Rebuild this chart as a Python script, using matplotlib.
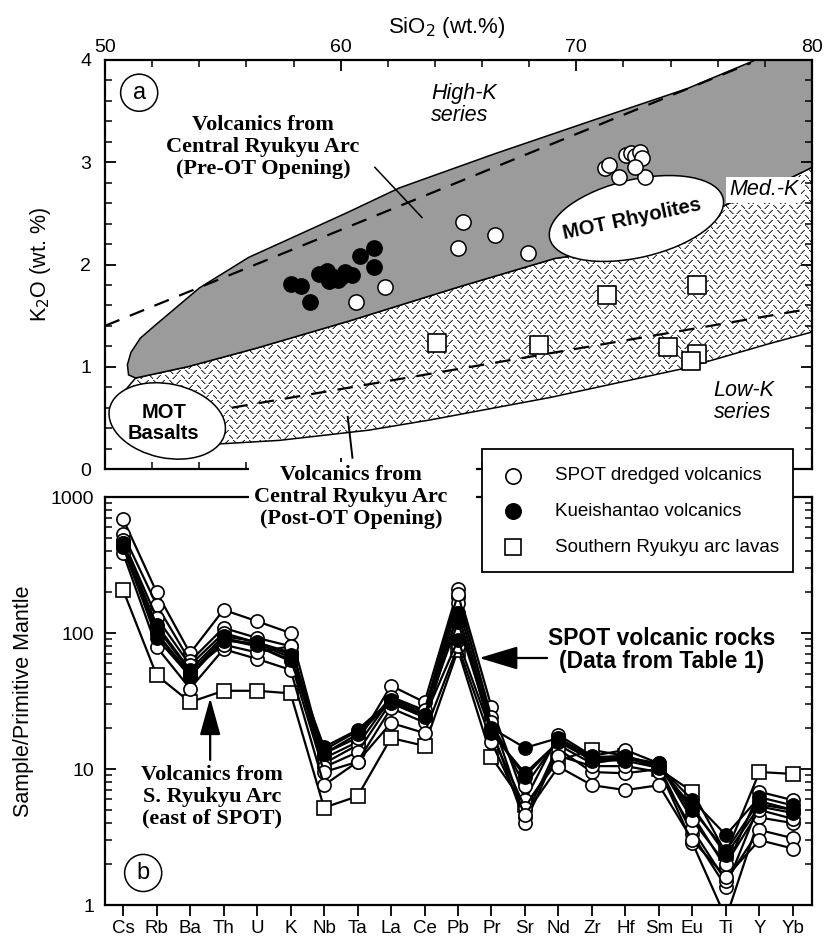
import numpy as np
import matplotlib
matplotlib.use("Agg")
import matplotlib.pyplot as plt
from matplotlib import font_manager
from matplotlib.patches import Polygon, Ellipse, Rectangle
from matplotlib.lines import Line2D
from matplotlib.transforms import ScaledTranslation
from matplotlib.ticker import MultipleLocator, LogLocator, NullFormatter

# ------------------------------------------------------------------
# fuentes
# ------------------------------------------------------------------
_names = {f.name for f in font_manager.fontManager.ttflist}
NARROW = "Liberation Sans Narrow" if "Liberation Sans Narrow" in _names else "Liberation Sans"
SANS = "Liberation Sans"
SERIF = "Liberation Serif"
plt.rcParams["font.family"] = [NARROW, "DejaVu Sans"]

# ------------------------------------------------------------------
# (a) K2O vs SiO2
# ------------------------------------------------------------------
spot_sio2 = [65.2, 66.55, 65.0, 67.96, 61.87, 60.64, 71.2, 71.4, 71.8, 72.1,
             72.3, 72.5, 72.7, 72.8, 72.9, 72.5]
spot_k2o = [2.42, 2.29, 2.16, 2.11, 1.78, 1.63, 2.94, 2.97, 2.86, 3.07,
            3.09, 3.06, 3.10, 3.04, 2.86, 2.95]
kue_sio2 = [57.9, 58.3, 58.7, 59.1, 59.4, 59.7, 59.9, 60.2, 60.5, 60.8,
            61.4, 61.4, 59.5, 60.0]
kue_k2o = [1.81, 1.79, 1.63, 1.91, 1.94, 1.88, 1.85, 1.93, 1.90, 2.08,
           2.16, 1.98, 1.84, 1.88]
sr_sio2 = [64.1, 68.4, 71.3, 75.1, 73.9, 75.1, 74.85]
sr_k2o = [1.23, 1.21, 1.70, 1.80, 1.19, 1.12, 1.06]

# campo pre-OT (gris)
pre_sio2 = [50.95, 51.1, 51.5, 52.1, 54.0, 56.1, 58.3, 60.3, 62.5, 66.5, 70.7,
            74.7, 77.6, 80.0, 80.0, 78.5, 76.5, 74.0, 71.0, 69.1, 65.0, 60.4,
            56.4, 53.5, 51.3, 51.0]
pre_k2o = [1.02, 1.14, 1.28, 1.40, 1.77, 2.07, 2.30, 2.51, 2.75, 3.08, 3.41,
           3.72, 4.00, 4.00, 2.95, 2.78, 2.60, 2.32, 2.12, 2.06, 1.78, 1.45,
           1.18, 1.00, 0.89, 0.92]
# campo post-OT (rayado)
post_sio2 = [51.3, 53.5, 56.4, 60.4, 65.0, 69.1, 71.0, 74.0, 76.5, 78.5, 80.0,
             80.0, 78.1, 74.5, 68.9, 63.8, 61.2, 57.4, 53.0, 51.5, 50.6]
post_k2o = [0.89, 1.00, 1.18, 1.45, 1.78, 2.06, 2.12, 2.32, 2.60, 2.78, 2.95,
            1.34, 1.22, 0.98, 0.70, 0.48, 0.38, 0.28, 0.22, 0.30, 0.70]

# limites de series (rayas)
hk_sio2 = [50.0, 77.4]
hk_k2o = [1.40, 3.97]
lk_sio2 = [55.4, 80.0]
lk_k2o = [0.60, 1.57]

# ------------------------------------------------------------------
# (b) diagrama multi-elemento
# ------------------------------------------------------------------
elements = ["Cs", "Rb", "Ba", "Th", "U", "K", "Nb", "Ta", "La", "Ce", "Pb",
            "Pr", "Sr", "Nd", "Zr", "Hf", "Sm", "Eu", "Ti", "Y", "Yb"]

spot_pm = [
    [689, 200, 71, 148, 122, 100, 12.0, 15.8, 41, 31, 209, 28.6, 5.9, 17.8, 12.5, 13.8, 11.0, 4.6, 1.87, 6.8, 5.9],
    [535, 161, 62, 109, 92, 80, 11.0, 15.0, 33, 26, 185, 24, 4.4, 15.0, 11.0, 12.0, 10.5, 3.3, 1.36, 5.5, 5.0],
    [480, 130, 58, 100, 85, 72, 10.3, 13.3, 31, 24, 165, 20, 4.0, 14.0, 9.5, 9.3, 10.0, 2.86, 0.8, 4.4, 4.0],
    [420, 100, 48, 90, 80, 62, 9.5, 11.3, 28, 22, 140, 18, 5.2, 12.5, 10.5, 10.5, 9.5, 3.6, 1.5, 3.56, 3.1],
    [387, 79, 39, 76, 64.5, 53.6, 7.6, 11.3, 21.8, 18.4, 80, 15.8, 4.6, 10.4, 7.6, 7.0, 7.6, 3.0, 1.6, 3.0, 2.6],
    [460, 110, 52, 82, 72, 80, 13, 17, 34, 27, 195, 22, 7.5, 16.5, 11.5, 12.2, 11.0, 4.2, 2.0, 5.0, 4.3],
]
kue_pm = [
    [460, 115, 53.5, 95, 86, 69, 14.5, 19.4, 32, 25, 120, 20, 14.3, 16.9, 12.2, 12.5, 10.5, 5.9, 3.27, 6.2, 5.4],
    [440, 100, 50, 92, 81, 63, 13.8, 19.0, 30.5, 24, 89, 18.4, 9.3, 15.8, 11.7, 11.5, 10.2, 5.3, 2.33, 5.3, 4.75],
    [430, 92, 48, 88, 84, 66, 13.0, 18.0, 31, 25, 140, 19, 8.8, 16.0, 12.0, 12.0, 10.8, 5.0, 2.5, 5.8, 5.0],
]
sr_pm = [207, 49, 31, 37.6, 37.6, 36, 5.2, 6.3, 16.9, 14.8, 75, 12.2, 5.4, 11.6, 13.8, 12.5, 10.0, 6.8, 2.4, 9.5, 9.2]

legend_labels = ["SPOT dredged volcanics", "Kueishantao volcanics",
                 "Southern Ryukyu arc lavas"]

# ------------------------------------------------------------------
W, H = 824, 942
fig = plt.figure(figsize=(W / 100, H / 100), dpi=100)


def fx(px):
    return px / W


def fy(py):
    return 1 - py / H


ax1 = fig.add_axes([fx(105), fy(469), (812 - 105) / W, (469 - 60) / H])
ax2 = fig.add_axes([fx(105), fy(905), (812 - 105) / W, (905 - 497) / H])

for ax in (ax1, ax2):
    for s in ax.spines.values():
        s.set_linewidth(1.6)

# ---------------- panel a ----------------
ax1.set_xlim(50, 80)
ax1.set_ylim(0, 4)

post = Polygon(np.column_stack([post_sio2, post_k2o]), closed=True,
               fc="white", ec="none", zorder=1)
ax1.add_patch(post)

# textura del campo post-OT: guiones cortos alternados "\" y "/"
tile = np.ones((10, 16))
for k in range(4):
    tile[k, k] = 0.2            # "\"
    tile[k, 11 - k] = 0.2       # "/"
    tile[5 + k, 7 - k] = 0.2    # "/"
    tile[5 + k, 12 + k] = 0.2   # "\"
    tile[k, min(k + 1, 15)] = min(tile[k, min(k + 1, 15)], 0.6)
    tile[k, 10 - k] = min(tile[k, 10 - k], 0.6)
    tile[5 + k, 6 - k] = min(tile[5 + k, 6 - k], 0.6)
    tile[5 + k, min(13 + k, 15)] = min(tile[5 + k, min(13 + k, 15)], 0.6)
tex = np.tile(tile, (60, 60))[:409, :707]
im = ax1.imshow(np.dstack([tex, tex, tex]), extent=(50, 80, 0, 4),
                aspect="auto", interpolation="nearest", zorder=1.1)
im.set_clip_path(post)
ax1.add_patch(Polygon(np.column_stack([post_sio2, post_k2o]), closed=True,
                      fc="none", ec="black", lw=1.1, zorder=1.2))

ax1.add_patch(Polygon(np.column_stack([pre_sio2, pre_k2o]), closed=True,
                      fc="#9b9b9b", ec="black", lw=1.1, zorder=1.5))

ax1.plot(hk_sio2, hk_k2o, color="black", lw=1.6, dashes=(7, 5), zorder=2)
ax1.plot(lk_sio2, lk_k2o, color="black", lw=1.6, dashes=(7, 5), zorder=2)


def blob(ax, x, y, w_in, h_in, ang):
    tr = fig.dpi_scale_trans + ScaledTranslation(x, y, ax.transData)
    e = Ellipse((0, 0), w_in, h_in, angle=ang, transform=tr,
                fc="white", ec="black", lw=1.1, zorder=2.5)
    ax.add_patch(e)


blob(ax1, 72.55, 2.45, 1.78, 0.78, 13)
blob(ax1, 52.64, 0.47, 1.18, 0.74, -12)
ax1.text(72.35, 2.44, "MOT Rhyolites", family=SANS, weight="bold",
         fontsize=14.5, rotation=12, rotation_mode="anchor",
         ha="center", va="center", zorder=6)
ax1.text(52.5, 0.45, "MOT\nBasalts", family=SANS, weight="bold",
         fontsize=14.5, ha="center", va="center", linespacing=1.15, zorder=6)

ax1.scatter(spot_sio2, spot_k2o, s=120, marker="o", fc="white", ec="black",
            lw=1.1, zorder=4)
ax1.scatter(kue_sio2, kue_k2o, s=120, marker="o", fc="black", ec="black",
            lw=1.1, zorder=4)
ax1.scatter(sr_sio2, sr_k2o, s=150, marker="s", fc="white", ec="black",
            lw=1.2, zorder=4)

ax1.text(56.7, 3.15, "Volcanics from\nCentral Ryukyu Arc\n(Pre-OT Opening)",
         family=SERIF, weight="bold", fontsize=16, ha="center", va="center",
         linespacing=1.12, zorder=6)
ax1.plot([61.45, 63.45], [2.95, 2.46], color="black", lw=1.1, zorder=3)
ax1.plot([60.3, 60.5], [0.51, 0.11], color="black", lw=1.4, zorder=3)

ax1.text(63.83, 3.565, "High-K\nseries", family=SANS, style="italic",
         fontsize=15.5, ha="left", va="center", linespacing=1.05, zorder=6)
ax1.text(75.83, 0.66, "Low-K\nseries", family=SANS, style="italic",
         fontsize=15.5, ha="left", va="center", linespacing=1.05, zorder=6)
ax1.text(77.95, 2.73, "Med.-K", family=SANS, style="italic", fontsize=15.5,
         ha="center", va="center", zorder=6,
         bbox=dict(fc="white", ec="none", pad=2))
ax1.text(51.45, 3.68, "a", fontsize=17, ha="center", va="center", zorder=6,
         bbox=dict(boxstyle="circle,pad=0.32", fc="white", ec="black", lw=1.1))

ax1.xaxis.set_major_locator(MultipleLocator(10))
ax1.xaxis.set_minor_locator(MultipleLocator(2))
ax1.yaxis.set_major_locator(MultipleLocator(1))
ax1.yaxis.set_minor_locator(MultipleLocator(0.2))
ax1.tick_params(axis="x", which="both", direction="in", top=True, bottom=True,
                labeltop=True, labelbottom=False, pad=3, labelsize=14)
ax1.tick_params(axis="y", which="both", direction="in", left=True, right=True,
                pad=10, labelsize=14)
ax1.tick_params(which="major", length=8, width=1.3)
ax1.tick_params(which="minor", length=5, width=1.1)
ax1.set_ylabel("K$_2$O (wt. %)", family=SANS, fontsize=15.5)
ax1.yaxis.set_label_coords(-0.074, 0.5)
fig.text(fx(447), fy(27), "SiO$_2$ (wt.%)", fontsize=16, ha="center",
         va="center")

# ---------------- panel b ----------------
xi = np.arange(len(elements))
ax2.set_yscale("log")
ax2.set_ylim(1, 1000)
ax2.set_xlim(-0.54, 20.57)

ax2.plot(xi, sr_pm, "-s", color="black", lw=1.6, ms=9.5, mfc="white",
         mec="black", mew=1.2, zorder=3)
for row in spot_pm:
    ax2.plot(xi, row, "-o", color="black", lw=1.6, ms=9.5, mfc="white",
             mec="black", mew=1.2, zorder=3)
for row in kue_pm:
    ax2.plot(xi, row, "-o", color="black", lw=1.6, ms=9.5, mfc="black",
             mec="black", mew=1.2, zorder=3.5)

ax2.set_xticks(xi)
ax2.set_xticklabels(elements)
ax2.tick_params(axis="x", direction="out", length=8, width=1.3, pad=3,
                labelsize=13.5, top=False)
ax2.yaxis.set_minor_locator(LogLocator(base=10, subs=np.arange(2, 10), numticks=12))
ax2.yaxis.set_minor_formatter(NullFormatter())
ax2.set_yticks([1, 10, 100, 1000])
ax2.set_yticklabels(["1", "10", "100", "1000"])
ax2.tick_params(axis="y", which="both", direction="in", left=True, right=True,
                pad=8, labelsize=14)
ax2.tick_params(axis="y", which="major", length=8, width=1.3)
ax2.tick_params(axis="y", which="minor", length=5, width=1.1)
ax2.set_ylabel("Sample/Primitive Mantle", fontsize=15.5)
ax2.yaxis.set_label_coords(-0.1, 0.5)

ax2.text(16.09, 75, "SPOT volcanic rocks\n(Data from Table 1)", family=SANS,
         weight="bold", fontsize=16.5, ha="center", va="center",
         linespacing=1.05, zorder=6)
ax2.annotate("", xy=(10.63, 65.5), xytext=(12.66, 65.5),
             arrowprops=dict(arrowstyle="-|>,head_length=1.2,head_width=0.36",
                             mutation_scale=20, color="black", lw=1.6,
                             shrinkA=0, shrinkB=0), zorder=6)
ax2.text(2.66, 6.22, "Volcanics from\nS. Ryukyu Arc\n(east of SPOT)",
         family=SERIF, weight="bold", fontsize=16, ha="center", va="center",
         linespacing=1.12, zorder=6)
ax2.annotate("", xy=(2.6, 33.3), xytext=(2.6, 11.65),
             arrowprops=dict(arrowstyle="-|>,head_length=1.15,head_width=0.32",
                             mutation_scale=20, color="black", lw=1.6,
                             shrinkA=0, shrinkB=0), zorder=6)
ax2.text(0.6, 1.72, "b", fontsize=17, ha="center", va="center", zorder=6,
         bbox=dict(boxstyle="circle,pad=0.32", fc="white", ec="black", lw=1.1))

# ---------------- texto entre paneles y leyenda ----------------
fig.add_artist(Rectangle((fx(249), fy(504)), (476 - 249) / W, (504 - 462) / H,
                         transform=fig.transFigure, fc="white", ec="none",
                         zorder=2))
fig.text(fx(351), fy(497), "Volcanics from\nCentral Ryukyu Arc\n(Post-OT Opening)",
         family=SERIF, weight="bold", fontsize=16, ha="center", va="center",
         linespacing=1.12, zorder=3)

fig.add_artist(Rectangle((fx(482), fy(572)), (793 - 482) / W, (572 - 449) / H,
                         transform=fig.transFigure, fc="white", ec="black",
                         lw=1.3, zorder=4))
leg_y = [476, 511, 547]
leg_style = [dict(marker="o", mfc="white"), dict(marker="o", mfc="black"),
             dict(marker="s", mfc="white")]
for y, lab, st in zip(leg_y, legend_labels, leg_style):
    fig.add_artist(Line2D([fx(513)], [fy(y)], transform=fig.transFigure,
                          ls="none", ms=11, mec="black", mew=1.2, zorder=5,
                          **st))
    fig.text(fx(555), fy(y), lab, fontsize=13.5, ha="left", va="center",
             zorder=5)

fig.savefig("out.png", dpi=100)
